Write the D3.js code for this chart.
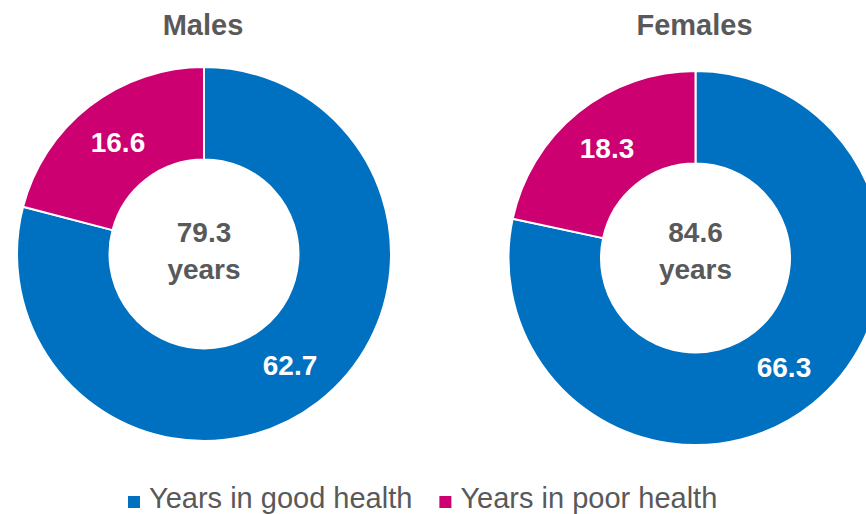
<!DOCTYPE html>
<meta charset="utf-8">
<style>
body { margin: 0; background: #fff; }
text { font-family: "Liberation Sans", Arial, sans-serif; }
.title, .total { fill: #595959; font-weight: bold; }
.lbl { fill: #fff; font-weight: bold; font-size: 28px; }
.legend text { fill: #595959; font-size: 29px; }
</style>
<svg width="866" height="514"></svg>
<script src="https://d3js.org/d3.v7.min.js"></script>
<script>
// data
var groups = ["Males", "Females"];
var categories = ["Years in good health", "Years in poor health"];
var goodHealth = [62.7, 66.3];
var poorHealth = [16.6, 18.3];
var totals = ["79.3", "84.6"];
var colours = ["#0070c0", "#cc0070"];

var svg = d3.select("svg");

var centres = [{x: 204, y: 254}, {x: 695.5, y: 258}];
var outerR = 187, innerR = 94.5;
var textMidY = 242;

var color = d3.scaleOrdinal().domain(categories).range(colours);
var pie = d3.pie().sort(null).value(d => d.value);
var arc = d3.arc().innerRadius(innerR).outerRadius(outerR);

groups.forEach(function(name, i) {
  var c = centres[i];
  var rows = [
    {key: categories[0], value: goodHealth[i]},
    {key: categories[1], value: poorHealth[i]}
  ];

  svg.append("text")
      .attr("class", "title")
      .attr("x", c.x - 1)
      .attr("y", 35)
      .attr("text-anchor", "middle")
      .style("font-size", "29px")
      .text(name);

  var g = svg.append("g").attr("transform", "translate(" + c.x + "," + c.y + ")");

  g.selectAll("path")
    .data(pie(rows))
    .enter().append("path")
      .attr("d", arc)
      .attr("fill", d => color(d.data.key))
      .attr("stroke", "#fff")
      .attr("stroke-width", 2);

  g.selectAll("text")
    .data(pie(rows))
    .enter().append("text")
      .attr("class", "lbl")
      .attr("transform", d => "translate(" + arc.centroid(d) + ")")
      .attr("dy", "0.35em")
      .attr("text-anchor", "middle")
      .text(d => d.data.value.toFixed(1));

  svg.append("text")
      .attr("class", "total")
      .attr("x", c.x)
      .attr("y", textMidY)
      .attr("text-anchor", "middle")
      .style("font-size", "28px")
      .text(totals[i]);
  svg.append("text")
      .attr("class", "total")
      .attr("x", c.x)
      .attr("y", textMidY + 37)
      .attr("text-anchor", "middle")
      .style("font-size", "28px")
      .text("years");
});

// legend
var legend = svg.append("g").attr("class", "legend");
var lx = 128, ly = 508;
categories.forEach(function(cat) {
  legend.append("rect")
      .attr("x", lx).attr("y", ly - 12)
      .attr("width", 12).attr("height", 12)
      .attr("fill", color(cat));
  var t = legend.append("text")
      .attr("x", lx + 21).attr("y", ly)
      .text(cat);
  lx += 21 + t.node().getComputedTextLength() + 27;
});
</script>
